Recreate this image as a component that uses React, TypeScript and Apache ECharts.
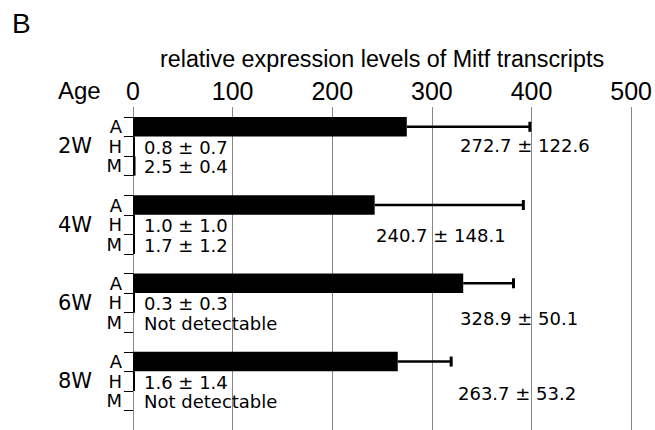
import React, { useEffect, useRef } from "react";
import * as echarts from "echarts";

// ---- data ----
const ages = ["2W", "4W", "6W", "8W"];
const tissues = ["A", "H", "M"];
const aMean = [272.7, 240.7, 328.9, 263.7];
const aSd = [122.6, 148.1, 50.1, 53.2];
const hMean = [0.8, 1.0, 0.3, 1.6];
const hSd = [0.7, 1.0, 0.3, 1.4];
const mMean: (number | null)[] = [2.5, 1.7, null, null];
const mSd: (number | null)[] = [0.4, 1.2, null, null];
const xTicks = [0, 100, 200, 300, 400, 500];
const axisTitle = "relative expression levels of Mitf transcripts";
const panelLabel = "B";
const ageLabel = "Age";
const notDetected = "Not detectable";

const HELV = '"Liberation Sans", Arial, Helvetica, sans-serif';
const GENEVA = '"DejaVu Sans", Verdana, sans-serif';

const fmt = (m: number | null, s: number | null) =>
  m == null || s == null ? notDetected : `${m.toFixed(1)} ± ${s.toFixed(1)}`;

function buildOption() {
  // one row per tissue plus an empty spacer row per age group
  const rowKeys: string[] = [];
  const barData: (number | string)[] = [];
  ages.forEach((age, i) => {
    const vals = [aMean[i], hMean[i], mMean[i]];
    tissues.forEach((t, k) => {
      rowKeys.push(`${age}|${t}`);
      barData.push(vals[k] == null ? "-" : (vals[k] as number));
    });
    rowKeys.push(`${age}|`);
    barData.push("-");
  });
  const rowsPerGroup = tissues.length + 1;
  const rowH = 20.67;

  const errData = ages.map((_, i) => [aMean[i], i * rowsPerGroup, aSd[i]]);

  const noteTexts: string[] = [];
  const noteData: number[][] = [];
  ages.forEach((_, i) => {
    noteData.push([0, i * rowsPerGroup + 1]);
    noteTexts.push(fmt(hMean[i], hSd[i]));
    noteData.push([0, i * rowsPerGroup + 2]);
    noteTexts.push(fmt(mMean[i], mSd[i]));
  });

  // placement of the A-row annotations (pixel positions of the text)
  const aNotePos = [
    [460, 145],
    [376, 235],
    [460, 318],
    [458, 393],
  ];

  const graphic: any[] = [
    {
      type: "text",
      left: 12,
      top: 9,
      style: { text: panelLabel, font: `28px ${HELV}`, fill: "#000" },
    },
    {
      type: "text",
      x: 58,
      y: 90,
      style: {
        text: ageLabel,
        font: `24px ${HELV}`,
        fill: "#000",
        textVerticalAlign: "middle",
        verticalAlign: "middle",
      },
    },
    ...ages.map((_, i) => ({
      type: "text",
      x: aNotePos[i][0],
      y: aNotePos[i][1],
      style: {
        text: fmt(aMean[i], aSd[i]),
        font: `18px ${GENEVA}`,
        fill: "#000",
        textVerticalAlign: "middle",
        verticalAlign: "middle",
      },
    })),
  ];

  return {
    animation: false,
    backgroundColor: "#ffffff",
    graphic,
    grid: [
      { left: 133, right: 20, top: 107, height: 340 },
      { left: 133, right: 20, top: 117, height: rowKeys.length * rowH },
    ],
    xAxis: [
      {
        gridIndex: 0,
        type: "value",
        position: "top",
        min: xTicks[0],
        max: xTicks[xTicks.length - 1],
        interval: xTicks[1] - xTicks[0],
        axisLine: { show: true, lineStyle: { color: "#111", width: 1 } },
        axisTick: { show: false },
        splitLine: { show: true, lineStyle: { color: "#888", width: 1 } },
        axisLabel: { margin: 4, color: "#000", fontSize: 25, fontFamily: HELV },
        name: axisTitle,
        nameLocation: "middle",
        nameGap: 37,
        nameTextStyle: { color: "#000", fontSize: 23.3, fontFamily: HELV },
      },
      {
        gridIndex: 1,
        type: "value",
        min: xTicks[0],
        max: xTicks[xTicks.length - 1],
        show: false,
      },
    ],
    yAxis: [
      { gridIndex: 0, type: "value", show: false, min: 0, max: 1 },
      {
        gridIndex: 1,
        type: "category",
        inverse: true,
        position: "left",
        data: rowKeys,
        axisLine: { show: false },
        axisTick: { show: true, length: 9, interval: 0, lineStyle: { color: "#000", width: 1 } },
        splitLine: { show: false },
        axisLabel: {
          interval: 0,
          margin: 11,
          color: "#000",
          fontSize: 18,
          lineHeight: 18,
          fontFamily: GENEVA,
          formatter: (v: string) => v.split("|")[1],
        },
      },
      {
        gridIndex: 1,
        type: "category",
        inverse: true,
        position: "left",
        data: rowKeys,
        axisLine: { show: false },
        axisTick: { show: false },
        splitLine: { show: false },
        axisLabel: {
          interval: 0,
          margin: 41,
          color: "#000",
          fontSize: 21,
          fontFamily: GENEVA,
          padding: [0, 0, 6, 0],
          formatter: (v: string) => (v.endsWith("|" + tissues[1]) ? v.split("|")[0] : ""),
        },
      },
    ],
    series: [
      {
        type: "bar",
        xAxisIndex: 1,
        yAxisIndex: 1,
        data: barData,
        barCategoryGap: "0%",
        barMinHeight: 2,
        itemStyle: { color: "#000" },
        silent: true,
      },
      {
        type: "custom",
        xAxisIndex: 1,
        yAxisIndex: 1,
        data: errData,
        silent: true,
        renderItem: (_p: any, api: any) => {
          const s = api.coord([api.value(0), api.value(1)]);
          const e = api.coord([api.value(0) + api.value(2), api.value(1)]);
          return {
            type: "group",
            children: [
              {
                type: "line",
                shape: { x1: s[0], y1: s[1], x2: e[0], y2: e[1] },
                style: { stroke: "#000", lineWidth: 2.5 },
              },
              {
                type: "line",
                shape: { x1: e[0], y1: e[1] - 5, x2: e[0], y2: e[1] + 5 },
                style: { stroke: "#000", lineWidth: 3 },
              },
            ],
          };
        },
      },
      {
        type: "custom",
        xAxisIndex: 1,
        yAxisIndex: 1,
        data: noteData,
        silent: true,
        renderItem: (p: any, api: any) => {
          const c = api.coord([api.value(0), api.value(1)]);
          return {
            type: "text",
            x: c[0] + 11,
            y: c[1] + 1,
            style: {
              text: noteTexts[p.dataIndex],
              font: `18px ${GENEVA}`,
              fill: "#000",
              textAlign: "left",
              align: "left",
              textVerticalAlign: "middle",
              verticalAlign: "middle",
            },
          };
        },
      },
    ],
  };
}

export default function App() {
  const ref = useRef<HTMLDivElement>(null);
  useEffect(() => {
    document.body.style.margin = "0";
    if (!ref.current) return;
    const chart = echarts.init(ref.current, undefined, { renderer: "svg" });
    chart.setOption(buildOption() as any);
    return () => chart.dispose();
  }, []);
  return <div ref={ref} style={{ width: 655, height: 430, background: "#fff" }} />;
}
